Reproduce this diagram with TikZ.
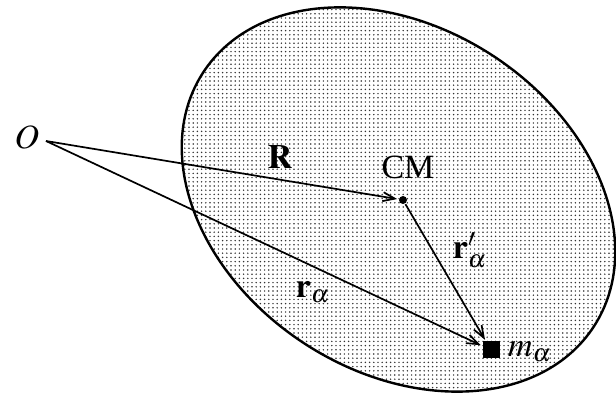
\documentclass[tikz,border=0pt]{standalone}
\usepackage{mathptmx}
\usepackage{fontspec}
\setmainfont{Liberation Serif}
\usetikzlibrary{arrows.meta, patterns.meta}

\begin{document}
\begin{tikzpicture}[x=0.5pt, y=0.5pt, line width=0.85pt,
  vec/.style={-{Straight Barb[length=6pt, width=4.5pt]}, shorten >=0.5pt},
  lbl/.style={font=\fontsize{17}{20}\selectfont, inner sep=0pt}]
  \useasboundingbox (0,0) rectangle (616,396);
  % body
  \draw[line width=1.2pt, pattern={Dots[radius=0.42pt, distance=2.1pt]}, pattern color=black!80]
    (398.5,196.5) ellipse[x radius=233, y radius=172, rotate=-33];

  \coordinate (O) at (46,255);
  \node[circle, fill, inner sep=0pt, minimum size=4pt] (CM) at (403,196) {};
  \node[rectangle, fill, inner sep=0pt, minimum size=8.5pt] (m) at (491,46) {};

  \draw[vec] (O) -- (CM);
  \draw[vec] (O) -- (m);
  \draw[vec] (CM) -- (m);

  \node[lbl] at (27,259) {$O$};
  \node[lbl] at (408,229) {CM};
  \node[lbl] at (530,44) {$m_\alpha$};
  \node[lbl] at (280,239) {$\mathbf{R}$};
  \node[lbl] at (313,104) {$\mathbf{r}_\alpha$};
  \node[lbl] at (470,146) {$\mathbf{r}'_\alpha$};
\end{tikzpicture}
\end{document}
